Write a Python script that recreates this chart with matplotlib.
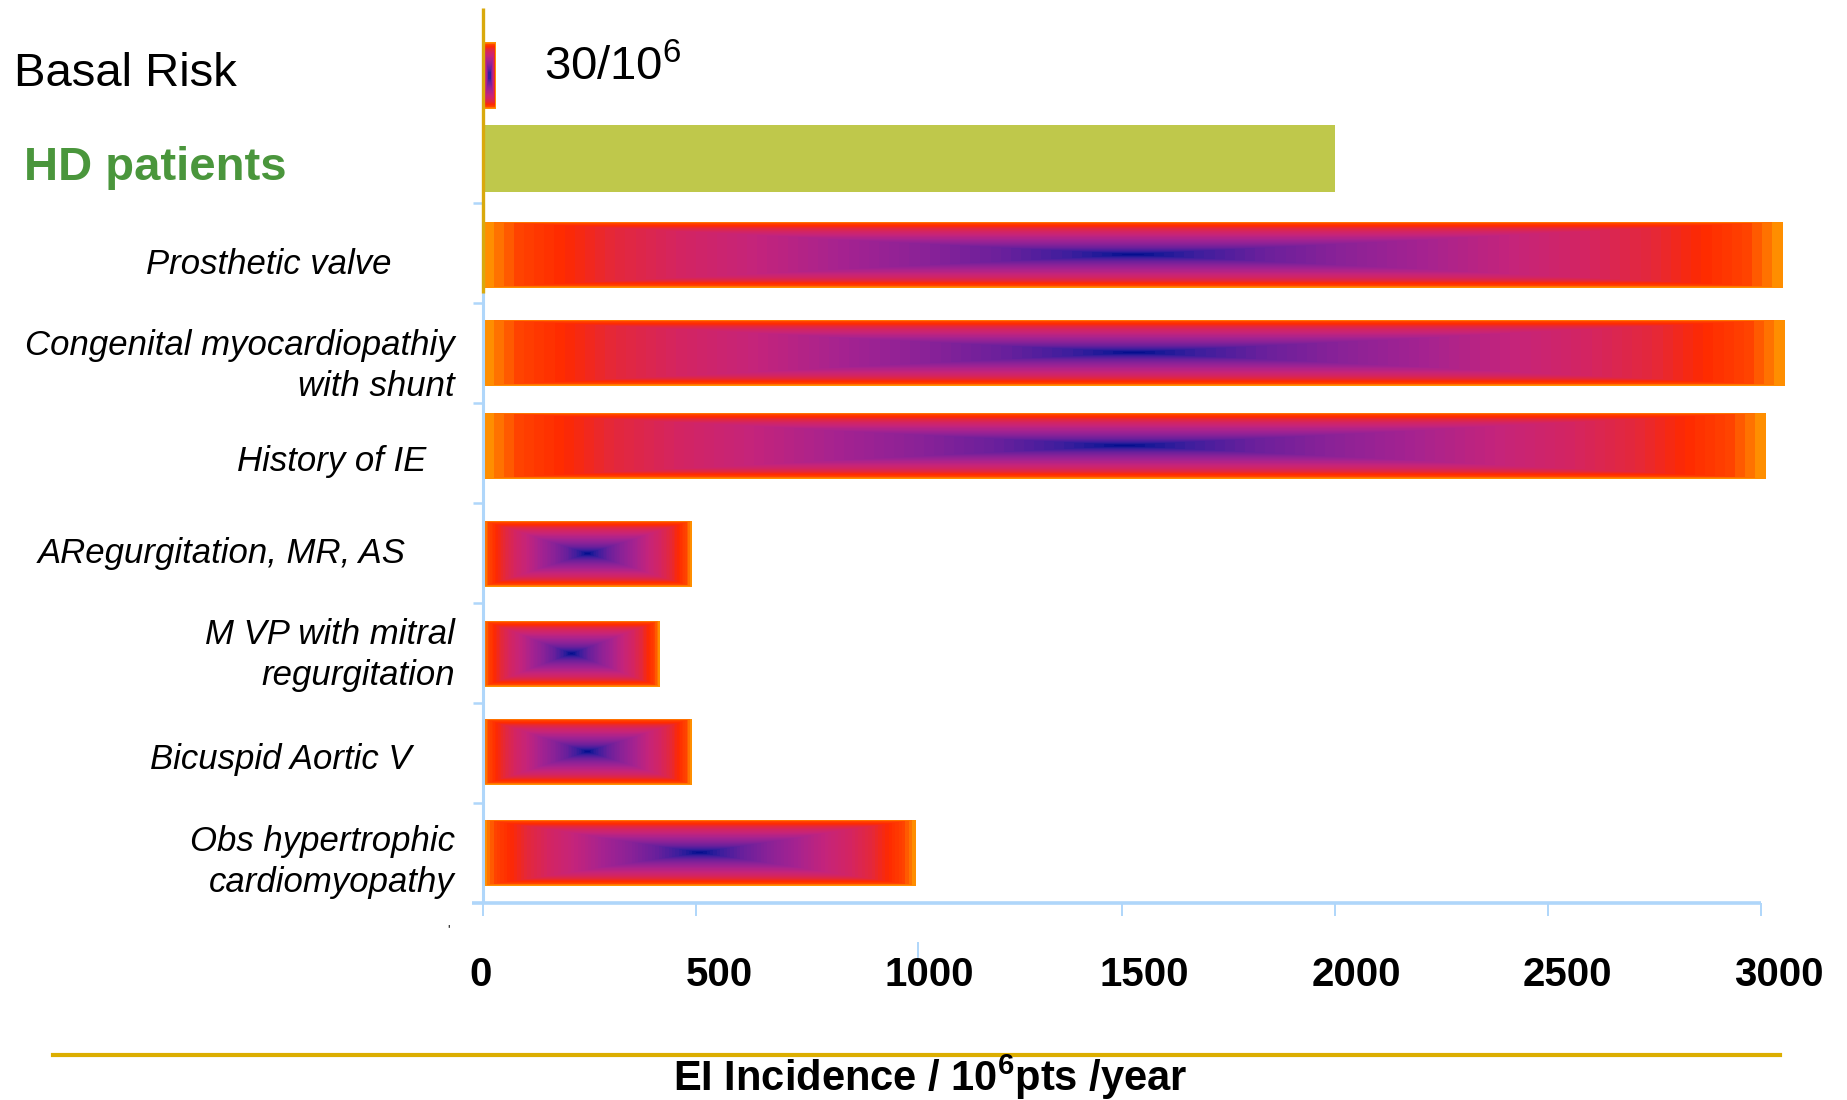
import numpy as np
import matplotlib
matplotlib.use("Agg")
import matplotlib.pyplot as plt
from matplotlib.colors import LinearSegmentedColormap
from matplotlib.lines import Line2D
import matplotlib.transforms as mtransforms

# ---- data -------------------------------------------------------------
categories = [
    "Basal Risk",
    "HD patients",
    "Prosthetic valve",
    "Congenital myocardiopathiy\nwith shunt",
    "History of IE",
    "ARegurgitation, MR, AS",
    "M VP with mitral\nregurgitation",
    "Bicuspid Aortic V",
    "Obs hypertrophic\ncardiomyopathy",
]
incidence = [30, 2000, 3050, 3055, 3010, 490, 415, 490, 1015]
basal_label = "30/10$^{6}$"
tick_values = [0, 500, 1000, 1500, 2000, 2500, 3000]
tick_labels = ["0", "500", "1000", "1500", "2000", "2500", "3000"]
xlabel = r"EI Incidence / 10$\mathbf{^{6}}$pts /year"

# ---- fonts ------------------------------------------------------------
plt.rcParams["font.family"] = ["Liberation Sans", "DejaVu Sans"]
plt.rcParams["mathtext.fontset"] = "custom"
plt.rcParams["mathtext.rm"] = "Liberation Sans"
plt.rcParams["mathtext.it"] = "Liberation Sans:italic"
plt.rcParams["mathtext.bf"] = "Liberation Sans:bold"

W, H = 1847, 1100
fig = plt.figure(figsize=(W / 100, H / 100), dpi=100)

# axes geometry in pixels
x0_px, y0_px = 483, 903           # origin of the plot
px_per_unit = 0.426               # horizontal pixels per incidence unit
xmax = 3070
ymin, ymax = -0.5, 8.45
row_px = 100
ax_w = xmax * px_per_unit
ax_h = (ymax - ymin) * row_px
ax = fig.add_axes([x0_px / W, (H - y0_px) / H, ax_w / W, ax_h / H])
ax.set_xlim(0, xmax)
ax.set_ylim(ymin, ymax)
for s in ax.spines.values():
    s.set_visible(False)


def py_to_y(py):
    return (y0_px - py) / row_px + ymin


LIGHT_BLUE = "#AFD6FA"
GOLD = "#D9A90C"

# vertical placement of the bars (pixel centres of each row)
bar_centres_px = [75, 158, 255, 353, 446, 554, 654, 752, 853]
bar_y = [py_to_y(p) for p in bar_centres_px]
bar_h = 0.67

# rectangular "path" gradient used for the risk bars
cmap = LinearSegmentedColormap.from_list(
    "risk",
    [
        (0.00, "#000C8C"), (0.04, "#1A1A98"), (0.10, "#3F1E9E"),
        (0.20, "#6A209C"), (0.32, "#8A2298"), (0.45, "#A62390"),
        (0.58, "#C4247C"), (0.70, "#D42562"), (0.80, "#E4283C"),
        (0.88, "#FF2A00"), (0.95, "#FF4400"), (0.985, "#FF7A00"),
        (1.00, "#FF9600"),
    ],
)


def path_gradient(nx, ny, levels=64):
    u = np.abs(np.linspace(-1, 1, nx))
    v = np.abs(np.linspace(-1, 1, ny))
    t = np.maximum(u[None, :], v[:, None])
    band = np.minimum(np.floor(t * levels), levels - 1)
    return (band + 0.5) / levels


bars = ax.barh(bar_y, incidence, height=bar_h, left=0,
               facecolor="none", edgecolor="none", zorder=2)
for i, bar in enumerate(bars):
    if i == 1:
        bar.set_facecolor("#BFC84B")
        continue
    x_a, w = bar.get_x(), bar.get_width()
    y_a, h = bar.get_y(), bar.get_height()
    nx = max(8, int(w * px_per_unit))
    ny = int(h * row_px)
    im = ax.imshow(path_gradient(nx, ny), cmap=cmap, vmin=0, vmax=1,
                   extent=(x_a, x_a + w, y_a, y_a + h), aspect="auto",
                   origin="lower", interpolation="nearest", zorder=2)
    im.set_clip_path(bar)

ax.set_xlim(0, xmax)
ax.set_ylim(ymin, ymax)

# axis lines
ax.plot([-26, 3000], [ymin, ymin], color=LIGHT_BLUE, lw=2.6,
        solid_capstyle="butt", clip_on=False, zorder=3)
ax.plot([0, 0], [ymin, 6.5], color=LIGHT_BLUE, lw=2.2,
        solid_capstyle="butt", clip_on=False, zorder=3)
ax.plot([0, 0], [py_to_y(293), ymax], color=GOLD, lw=2.4,
        solid_capstyle="butt", clip_on=False, zorder=4)

# ticks
ax.set_yticks([0.5, 1.5, 2.5, 3.5, 4.5, 5.5, 6.5])
ax.set_xticks([v for v in tick_values if v != 1000])
ax.tick_params(axis="y", length=7.5, width=1.8, color=LIGHT_BLUE,
               labelleft=False, direction="out")
ax.tick_params(axis="x", length=9.5, width=1.4, color=LIGHT_BLUE,
               labelbottom=False, direction="out")
trans_x = ax.get_xaxis_transform()
ax.plot([1020, 1020], [-40 / ax_h, -54 / ax_h], color=LIGHT_BLUE, lw=1.4,
        transform=trans_x, clip_on=False)
ax.text(-82, -27 / ax_h, "'", transform=trans_x, fontsize=9,
        ha="center", va="center")

# tick labels
label_dx_px = [-2, 23, 20, 22, 21, 19, 18]
for v, lab, dx in zip(tick_values, tick_labels, label_dx_px):
    ax.annotate(lab, xy=(v, 0), xycoords=trans_x,
                xytext=(dx * 0.72, -72 * 0.72), textcoords="offset points",
                ha="center", va="center", fontsize=29, fontweight="bold")

blend = mtransforms.blended_transform_factory(fig.transFigure, ax.transData)

# category labels
ax.text(14 / W, py_to_y(74), categories[0], transform=blend,
        fontsize=34, ha="left", va="center")
ax.text(24 / W, py_to_y(168), categories[1], transform=blend,
        fontsize=34, fontweight="bold", color="#4A963C", ha="left", va="center")

label_right_px = [392, 455, 426, 406, 455, 411, 455]
label_centre_px = [264, 366, 462, 553, 655, 760, 862]
for lab, rx, cy in zip(categories[2:], label_right_px, label_centre_px):
    ax.text(rx / W, py_to_y(cy), lab, transform=blend, fontsize=25,
            fontstyle="italic", ha="right", va="center", ma="right",
            linespacing=1.3)

# value annotation for the basal bar
ax.text(544 / W, py_to_y(68), basal_label, transform=blend, fontsize=34,
        ha="left", va="center")

# separator line and axis title
fig.add_artist(Line2D([53 / W, 1780 / W], [1 - 1055 / H, 1 - 1055 / H],
                      color="#DCAE00", lw=3.0, transform=fig.transFigure))
fig.text(930 / W, 1 - 1077 / H, xlabel, ha="center", va="center",
         fontsize=30, fontweight="bold")

fig.savefig("out.png", dpi=100, facecolor="white")
